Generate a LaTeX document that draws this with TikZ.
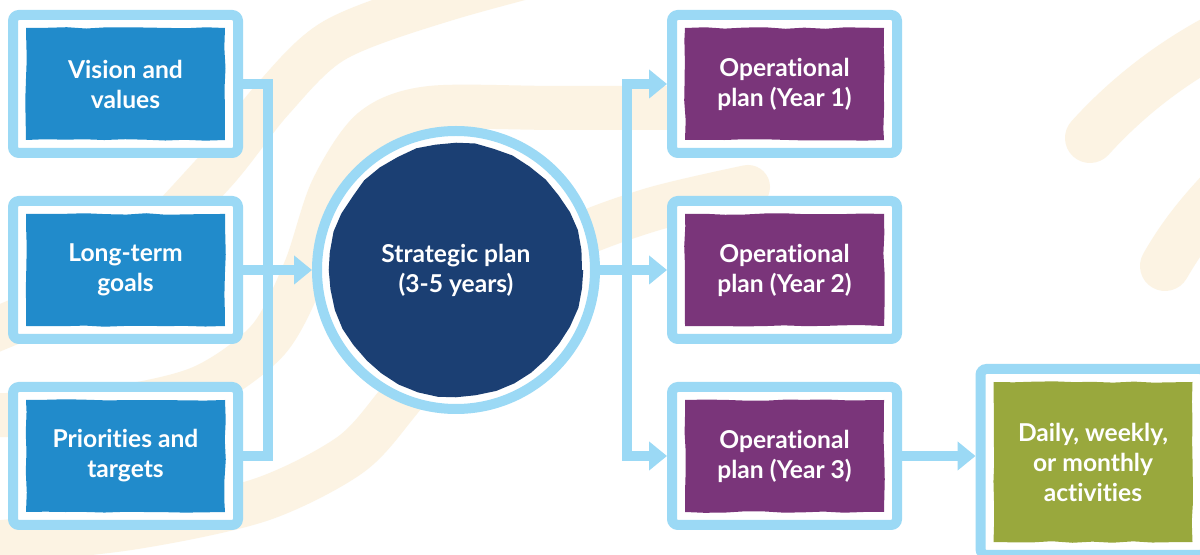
\documentclass[tikz,border=0pt]{standalone}
\usepackage{fontspec}
\setmainfont{Lato}[Ligatures=NoCommon]
\usetikzlibrary{arrows.meta,decorations.pathmorphing,calc}

\definecolor{frameblue}{HTML}{9BD9F5}
\definecolor{skyfill}{HTML}{218BCB}
\definecolor{navyfill}{HTML}{1B3F73}
\definecolor{plumfill}{HTML}{7A357A}
\definecolor{olivefill}{HTML}{99A83D}
\definecolor{creamband}{HTML}{FCF3E3}

\pgfdeclarelayer{background}
\pgfsetlayers{background,main}

\begin{document}
\begin{tikzpicture}[x=0.5pt,y=-0.5pt,
  wobble/.style={decorate,decoration={random steps,segment length=10pt,amplitude=0.4pt}},
  label text/.style={text=white,font=\bfseries\fontsize{12.3pt}{15pt}\selectfont,align=center},
  framebox/.style={draw=frameblue,line width=5pt,fill=white,inner sep=0pt,
    minimum width=112.5pt,minimum height=69pt,label text,rounded corners=3pt,
    path picture={\fill[#1,wobble,sharp corners]
      ([shift={(6.5pt,6.5pt)}]path picture bounding box.south west) rectangle
      ([shift={(-6.5pt,-6.5pt)}]path picture bounding box.north east);}},
  ringnode/.style={circle,draw=frameblue,line width=5pt,fill=white,inner sep=0pt,
    minimum size=139pt,label text,
    path picture={\fill[#1,wobble] (path picture bounding box.center) circle (63pt);}},
  conn/.style={draw=frameblue,line width=5pt},
  tip/.style={-{Triangle[length=9pt,width=14pt]}},
  band/.style={draw=creamband,line width=22pt,line cap=round,line join=round},
]
\pgfmathsetseed{12}
\useasboundingbox (0,0) rectangle (1200,555);

% inputs on the left
\node[framebox=skyfill] (v) at (125.5,84)  {Vision and\\values};
\node[framebox=skyfill] (l) at (125.5,270) {Long-term\\goals};
\node[framebox=skyfill] (p) at (125.5,456) {Priorities and\\targets};

% strategic plan
\node[ringnode=navyfill] (s) at (456,270) {Strategic plan\\(3-5 years)};

% yearly operational plans
\node[framebox=plumfill] (o1) at (784.5,84)  {Operational\\plan (Year 1)};
\node[framebox=plumfill] (o2) at (784.5,270) {Operational\\plan (Year 2)};
\node[framebox=plumfill] (o3) at (784.5,456) {Operational\\plan (Year 3)};

% short-term activities
\node[framebox=olivefill,minimum height=93pt] (g) at (1093,462) {Daily, weekly,\\or monthly\\activities};

\coordinate (jl) at (268,270);
\coordinate (jr) at (627,270);

\begin{pgfonlayer}{background}
  \fill[white] (0,0) rectangle (1200,555);
  % soft brush strokes behind the chart
  \draw[band] plot[smooth] coordinates {(630,-50) (450,-2) (335,40) (272,100) (212,175) (110,275) (-30,340)};
  \draw[band] plot[smooth] coordinates {(760,108) (560,108) (430,108) (372,130) (332,190) (305,270) (268,340) (200,388) (100,410) (-30,416)};
  \draw[band] plot[smooth] coordinates {(-30,545) (130,528) (260,500) (350,455) (400,400) (470,310) (560,245) (650,210) (748,187)};
  \draw[band,line width=25pt] (1215,40) .. controls (1160,70) and (1120,105) .. (1090,138);
  \draw[band,line width=25pt] (1218,195) .. controls (1195,220) and (1180,240) .. (1165,266);

  % connectors
  \draw[conn] (v.center) -| (jl) |- (p.center);
  \draw[conn,tip] (l.center) -- (s.west);
  \draw[conn] (s.center) -- (jr);
  \draw[conn,tip] (jr) |- (o1.west);
  \draw[conn,tip] (jr) -- (o2.west);
  \draw[conn,tip] (jr) |- (o3.west);
  \draw[conn,tip] (o3.center) -- (o3.center -| g.west);
\end{pgfonlayer}
\end{tikzpicture}
\end{document}
